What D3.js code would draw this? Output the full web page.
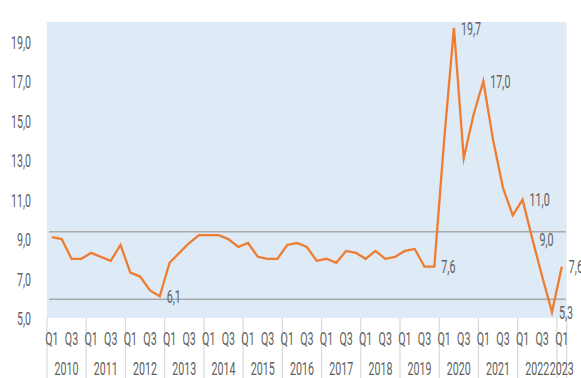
<!DOCTYPE html>
<html><head><meta charset="utf-8">
<script src="https://cdn.jsdelivr.net/npm/d3@7"></script>
<style>
html,body{margin:0;padding:0;background:#fff;}
svg text{font-family:"Roboto",sans-serif;font-size:18.5px;fill:#5f5f5f;}
</style></head><body>
<svg id="chart" width="581" height="378"></svg>
<script>
// ---- data ----
const years = [2010,2011,2012,2013,2014,2015,2016,2017,2018,2019,2020,2021,2022,2023];
const quarterNames = ["Q1","Q2","Q3","Q4"];
const shownQuarters = ["Q1","Q3"];
const values = [
  9.1, 9.0, 8.0, 8.0,   // 2010
  8.3, 8.1, 7.9, 8.7,   // 2011
  7.3, 7.1, 6.4, 6.1,   // 2012
  7.8, 8.3, 8.8, 9.2,   // 2013
  9.2, 9.2, 9.0, 8.6,   // 2014
  8.8, 8.1, 8.0, 8.0,   // 2015
  8.7, 8.8, 8.6, 7.9,   // 2016
  8.0, 7.8, 8.4, 8.3,   // 2017
  8.0, 8.4, 8.0, 8.1,   // 2018
  8.4, 8.5, 7.6, 7.6,   // 2019
  14.0, 19.7, 13.1, 15.3, // 2020
  17.0, 14.0, 11.6, 10.2, // 2021
  11.0, 9.0, 7.1, 5.3,  // 2022
  7.6                   // 2023
];
const labeledIdx = [11, 39, 41, 44, 48, 49, 51, 52];
const refLines = [9.37, 5.95];
const yTicks = [5,7,9,11,13,15,17,19];

// ---- build categories ----
const periods = [];
years.forEach(y => quarterNames.forEach(q => { if (periods.length < values.length) periods.push({year:y, q:q, key:y+"-"+q}); }));
const data = periods.map((p,i) => ({...p, v: values[i], i}));

const svg = d3.select("#chart");
const L = 47, R = 566.7, T = 22, B = 318;

const x = d3.scaleBand().domain(periods.map(p=>p.key)).range([L,R]).padding(0);
const y = d3.scaleLinear().domain([5,20]).range([B,T]);
const cx = k => x(k) + x.bandwidth()/2;
const fmt = v => d3.format(".1f")(v).replace(".", ",");

// condensed look: digit advance ~6px
const probe = svg.append("text").text("2010");
const sx = 24 / probe.node().getComputedTextLength();
probe.remove();

// background
svg.append("rect").attr("x",L).attr("y",T).attr("width",R-L).attr("height",B-T).attr("fill","#deeaf6");

// reference lines
svg.selectAll(".ref").data(refLines).enter().append("line")
  .attr("x1", L+2).attr("x2", R-1)
  .attr("y1", d=>y(d)).attr("y2", d=>y(d))
  .attr("stroke","#a9a9a9").attr("stroke-width",1.6);

// y axis
const yAxis = svg.append("g").attr("transform",`translate(${L},0)`)
  .call(d3.axisLeft(y).tickValues(yTicks).tickSize(0).tickFormat(fmt));
yAxis.select(".domain").remove();
yAxis.attr("font-family",null).attr("font-size",null);
yAxis.selectAll("text")
  .attr("x", -16/sx).attr("dy","0.36em")
  .attr("transform",`scale(${sx},1)`);

// year separators
const yearBounds = years.map(yr => x(yr+"-Q1")).concat([R]);
svg.selectAll(".sep").data(yearBounds).enter().append("line")
  .attr("x1",d=>d).attr("x2",d=>d).attr("y1",B).attr("y2",378)
  .attr("stroke","#d9d9d9").attr("stroke-width",1.2);

// x axis (quarters)
const xAxis = svg.append("g").attr("transform",`translate(0,${B})`)
  .call(d3.axisBottom(x).tickSize(0).tickFormat(k => { const q = k.split("-")[1]; return shownQuarters.includes(q) ? q : ""; }));
xAxis.select(".domain").remove();
xAxis.attr("font-family",null).attr("font-size",null);
xAxis.selectAll("text").attr("y",null).attr("dy",null)
  .attr("transform",`translate(0,26.5) scale(${sx},1)`);

// year labels
svg.selectAll(".yr").data(years).enter().append("text")
  .attr("text-anchor","middle")
  .attr("transform", yr => {
    const ks = periods.filter(p=>p.year===yr);
    const a = x(ks[0].key), b = x(ks[ks.length-1].key) + x.bandwidth();
    return `translate(${(a+b)/2},374.5) scale(${sx},1)`;
  })
  .text(d=>d);

// line
svg.append("path").datum(data)
  .attr("fill","none").attr("stroke","#ee7d31").attr("stroke-width",2.3)
  .attr("stroke-linejoin","miter").attr("stroke-miterlimit",10)
  .attr("d", d3.line().x(d=>cx(d.key)).y(d=>y(d.v)));

// value labels
svg.selectAll(".lbl").data(labeledIdx.map(i=>data[i])).enter().append("text")
  .attr("transform", d=>`translate(${cx(d.key)+7},${y(d.v)}) scale(${sx},1)`)
  .attr("dy","0.36em")
  .text(d=>fmt(d.v));
</script>
</body></html>
